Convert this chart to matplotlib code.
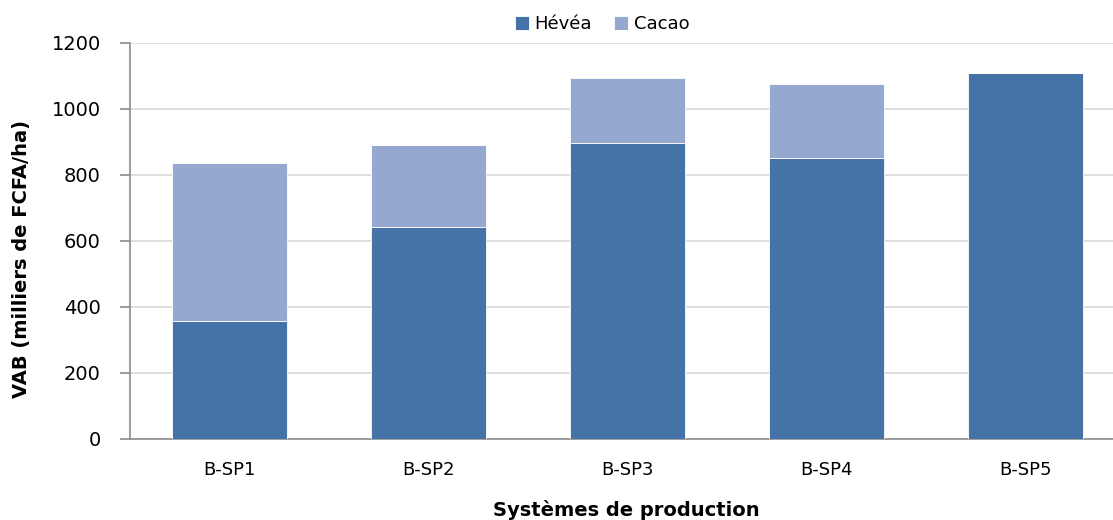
import matplotlib.pyplot as plt
import numpy as np

categories = ["B-SP1", "B-SP2", "B-SP3", "B-SP4", "B-SP5"]
hevea = [358, 642, 896, 851, 1109]
cacao = [478, 249, 197, 224, 0]

HEVEA_COLOR = "#4573A7"
CACAO_COLOR = "#95A9D0"

fig = plt.figure(figsize=(11.13, 5.2), dpi=100)
ax = fig.add_axes([130 / 1113, 81 / 520, 995 / 1113, 396 / 520])

x = np.arange(len(categories))
ax.bar(x, hevea, width=0.575, color=HEVEA_COLOR, edgecolor="white", linewidth=0.6,
       label="Hévéa", zorder=3)
ax.bar(x, cacao, width=0.575, bottom=hevea, color=CACAO_COLOR, edgecolor="white",
       linewidth=0.6, label="Cacao", zorder=3)

ax.set_xlim(-0.5, 4.5)
ax.set_ylim(0, 1200)
ax.set_yticks(range(0, 1201, 200))
ax.set_xticks(x)
ax.set_xticklabels(categories)

ax.yaxis.grid(True, color="#D9D9D9", linewidth=1.2, zorder=0)
ax.set_axisbelow(True)
for side in ["top", "right"]:
    ax.spines[side].set_visible(False)
ax.spines["left"].set_color("#8C8C8C")
ax.spines["bottom"].set_color("#8C8C8C")
ax.spines["left"].set_linewidth(1.2)
ax.spines["bottom"].set_linewidth(1.2)
ax.tick_params(axis="y", length=7, width=1.2, color="#8C8C8C", labelsize=14, pad=14)
ax.tick_params(axis="x", length=0, labelsize=13, pad=16)

ax.set_ylabel("VAB (milliers de FCFA/ha)", fontsize=14, fontweight="bold", va="center")
ax.yaxis.set_label_coords(-108 / 995, 0.455)
ax.set_xlabel("Systèmes de production", fontsize=14, fontweight="bold", va="center")
ax.xaxis.set_label_coords(496 / 995, -71 / 396)

fig.legend(loc="center", bbox_to_anchor=(602 / 1113, 1 - 24 / 520), ncol=2, frameon=False,
           fontsize=13, handlelength=0.8, handleheight=0.8, handletextpad=0.3,
           columnspacing=1.2)

fig.savefig("out.png", dpi=100)
